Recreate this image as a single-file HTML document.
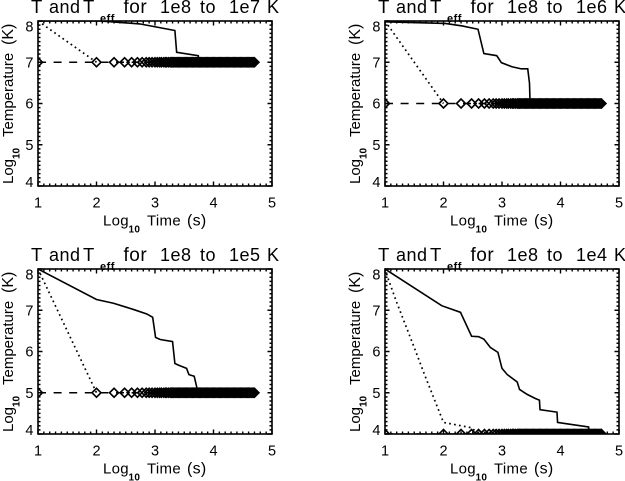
<!DOCTYPE html>
<html lang="en">
<head>
<meta charset="utf-8">
<title>T and Teff cooling panels</title>
<style>
html,body{margin:0;padding:0;background:#fff;}
svg{display:block;font-family:"Liberation Sans",sans-serif;fill:#000;}
</style>
</head>
<body>
<svg id="figure" width="625" height="481" viewBox="0 0 625 481" xmlns="http://www.w3.org/2000/svg">
<rect width="625" height="481" fill="#fff"/>
</svg>
<script>
// ---- Data (log10 time, log10 temperature) ----
const xTickLabels = [1, 2, 3, 4, 5];
const yTickLabels = [4, 5, 6, 7, 8];
const panelTitles = ["1e7", "1e6", "1e5", "1e4"];
const finalTemps = [7, 6, 5, 4];

const solidTimes1 = [1, 2.06, 2.74, 3.34, 3.37, 3.74, 3.75];
const solidTemps1 = [8, 8, 7.93, 7.77, 7.24, 7.16, 7];
const solidTimes2 = [1, 2.03, 2.32, 2.59, 2.69, 2.91, 2.99, 3.17, 3.33, 3.44, 3.47, 3.48];
const solidTemps2 = [7.98, 7.94, 7.88, 7.8, 7.21, 7.16, 6.99, 6.89, 6.84, 6.84, 6.49, 6];
const solidTimes3 = [1, 2, 2.29, 2.63, 2.86, 2.96, 3.01, 3.09, 3.3, 3.34, 3.4, 3.54, 3.58, 3.67, 3.72, 3.74];
const solidTemps3 = [8, 7.26, 7.17, 7.02, 6.91, 6.83, 6.34, 6.29, 6.24, 5.71, 5.67, 5.59, 5.44, 5.4, 5.1, 5];
const solidTimes4 = [1, 1.97, 2.29, 2.48, 2.6, 2.69, 2.8, 2.93, 3, 3.09, 3.26, 3.3, 3.43, 3.57, 3.64, 3.65, 3.94, 3.95, 4.14, 4.48, 4.49];
const solidTemps4 = [8, 7.11, 6.95, 6.37, 6.36, 6.3, 6.1, 5.98, 5.59, 5.44, 5.26, 5.08, 4.96, 4.86, 4.82, 4.59, 4.53, 4.28, 4.24, 4.17, 4];

const dottedTimes1 = [1, 2];
const dottedTemps1 = [8, 7];
const dottedTimes2 = [1, 2];
const dottedTemps2 = [8, 6];
const dottedTimes3 = [1, 2];
const dottedTemps3 = [8, 5];
const dottedTimes4 = [1, 1.06, 1.2, 1.51, 1.67, 2, 2.3, 2.48, 2.6];
const dottedTemps4 = [8, 7.74, 7.19, 6.06, 5.46, 4.28, 4.2, 4.15, 4];

const diamondTimes = [1, 2, 2.3, 2.48, 2.6, 2.7, 2.78, 2.85, 2.9, 2.95, 3, 3.04, 3.08, 3.11, 3.15, 3.18, 3.2, 3.23, 3.26, 3.28, 3.3,
  3.32, 3.34, 3.36, 3.38, 3.4, 3.42, 3.44, 3.46, 3.48, 3.5, 3.52, 3.54, 3.56, 3.58, 3.6, 3.62, 3.64, 3.66, 3.68, 3.7,
  3.72, 3.74, 3.76, 3.78, 3.8, 3.82, 3.84, 3.86, 3.88, 3.9, 3.92, 3.94, 3.96, 3.98, 4, 4.02, 4.04, 4.06, 4.08, 4.1,
  4.12, 4.14, 4.16, 4.18, 4.2, 4.22, 4.24, 4.26, 4.28, 4.3, 4.32, 4.34, 4.36, 4.38, 4.4, 4.42, 4.44, 4.46, 4.48, 4.5,
  4.52, 4.54, 4.56, 4.58, 4.6, 4.62, 4.64, 4.66, 4.68, 4.7];

const solidTimesAll = [solidTimes1, solidTimes2, solidTimes3, solidTimes4];
const solidTempsAll = [solidTemps1, solidTemps2, solidTemps3, solidTemps4];
const dottedTimesAll = [dottedTimes1, dottedTimes2, dottedTimes3, dottedTimes4];
const dottedTempsAll = [dottedTemps1, dottedTemps2, dottedTemps3, dottedTemps4];

// ---- Layout ----
const NS = "http://www.w3.org/2000/svg";
const svg = document.getElementById("figure");
const lefts = [38, 385, 38, 385];
const tops = [21, 21, 269, 269];
const W = 234, H = 165;

function make(tag, parent, attrs) {
  const el = document.createElementNS(NS, tag);
  for (const k in attrs) el.setAttribute(k, attrs[k]);
  parent.appendChild(el);
  return el;
}
function pathFrom(xs, ys, sx, sy) {
  return xs.map((v, i) => (i ? "L" : "M") + sx(v).toFixed(2) + " " + sy(ys[i]).toFixed(2)).join("");
}
function word(textEl, str, x, y, size, weight) {
  const t = make("tspan", textEl, {x: x, y: y, "font-size": size});
  if (weight) t.setAttribute("font-weight", weight);
  t.textContent = str;
  return t;
}

for (let p = 0; p < 4; p++) {
  const L = lefts[p], T = tops[p], B = T + H, R = L + W;
  const sx = v => L + (v - 1) * W / 4;
  const sy = v => B - (v - 4) * H / 4;

  const g = make("g", svg, {});
  
  

  const clip = make("clipPath", g, {id: "clip" + p});
  make("rect", clip, {x: L, y: T, width: W, height: H});

  const data = make("g", g, {"clip-path": "url(#clip" + p + ")", fill: "none", stroke: "#000"});

  const plateau = make("path", data, {
    d: pathFrom([1, 4.7], [finalTemps[p], finalTemps[p]], sx, sy),
    "stroke-width": 1.5, "stroke-dasharray": "8 7.6"
  });
  
  

  const diamonds = make("g", data, {"stroke-width": 1.6});
  
  
  diamondTimes.forEach(t => {
    const cx = sx(t), cy = sy(finalTemps[p]), r = 4.5;
    const d = make("path", diamonds, {d: `M${cx - r} ${cy}L${cx} ${cy - r}L${cx + r} ${cy}L${cx} ${cy + r}Z`});
    
    
  });

  const dotted = make("path", data, {
    d: pathFrom(dottedTimesAll[p], dottedTempsAll[p], sx, sy),
    "stroke-width": 1.7, "stroke-dasharray": "1.7 3.3"
  });
  
  

  const solid = make("path", data, {
    d: pathFrom(solidTimesAll[p], solidTempsAll[p], sx, sy),
    "stroke-width": 1.6
  });
  
  

  // Axes frame and ticks
  const frame = make("rect", g, {x: L, y: T, width: W, height: H, fill: "none", stroke: "#000", "stroke-width": 1.6});
  
  

  let ticks = "";
  for (let i = 0; i <= 40; i++) {
    const x = L + i * W / 40;
    const len = i % 10 === 0 ? 4.5 : 2.5;
    ticks += `M${x} ${B}V${B - len}M${x} ${T}V${T + len}`;
  }
  for (let i = 0; i <= 40; i++) {
    const y = T + i * H / 40;
    const len = i % 10 === 0 ? 4.5 : 2.5;
    ticks += `M${L} ${y}H${L + len}M${R} ${y}H${R - len}`;
  }
  const tickPath = make("path", g, {d: ticks, stroke: "#000", "stroke-width": 1.4, fill: "none"});
  
  

  // Tick labels
  xTickLabels.forEach(v => {
    const t = make("text", g, {x: sx(v), y: B + 21.5, "font-size": 14.5, "text-anchor": "middle"});
    
    
    t.textContent = v;
  });
  yTickLabels.forEach(v => {
    const base = Math.max(T + 10.5, Math.min(B + 1, sy(v) + 5));
    const t = make("text", g, {x: L - 4.5, y: base, "font-size": 14.5, "text-anchor": "end"});
    
    
    t.textContent = v;
  });

  // Title
  const off = L - 38;
  const title = make("text", g, {"letter-spacing": "0.5"});
  
  
  const ty = T - 8;
  word(title, "T", off + 31, ty, 18.5);
  word(title, "and", off + 49, ty, 18);
  word(title, "T", off + 83, ty, 18.5);
  word(title, "eff", off + 100, ty + 9, 11, "bold");
  word(title, "for", off + 123.5, ty, 19);
  word(title, "1e8", off + 160, ty, 18);
  word(title, "to", off + 200, ty, 18);
  word(title, "1e" + panelTitles[p].slice(2), off + 229, ty, 18);
  word(title, "K", off + 267, ty, 18);

  // X title
  const xt = make("text", g, {"letter-spacing": "0.3"});
  
  
  const xb = B + 39.5;
  word(xt, "Log", off + 103, xb, 15);
  word(xt, "10", off + 128.5, xb + 7, 10, "bold");
  word(xt, "Time", off + 147, xb, 15);
  word(xt, "(s)", off + 187, xb, 16);

  // Y title
  const yt = make("text", g, {transform: `translate(${L - 25},${B - 2}) rotate(-90)`});
  
  
  word(yt, "Log", 0, 0, 15);
  word(yt, "10", 25, 6.5, 10, "bold");
  word(yt, "Temperature", 47, 0, 15);
  word(yt, "(K)", 139, 0, 16);
}
</script>
</body>
</html>
